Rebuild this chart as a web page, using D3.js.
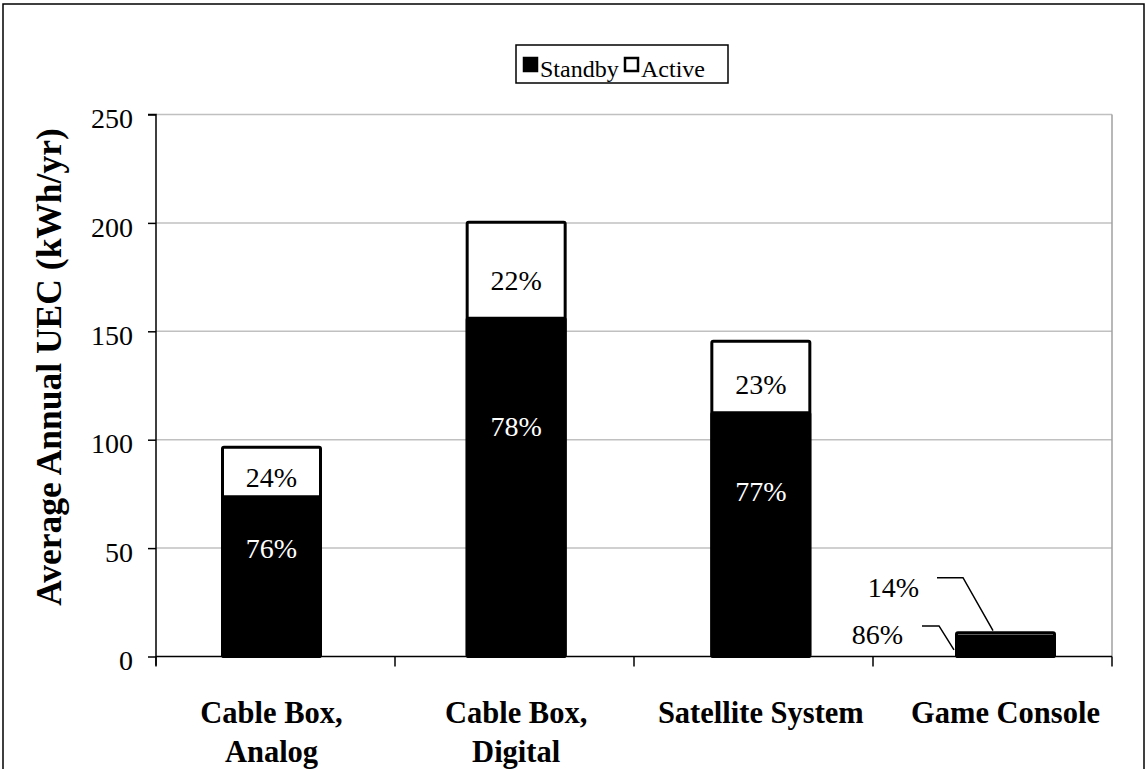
<!DOCTYPE html>
<html>
<head>
<meta charset="utf-8">
<script src="https://cdn.jsdelivr.net/npm/d3@7"></script>
<style>
html,body{margin:0;padding:0;background:#fff;}
svg{display:block;}
text{font-family:"Liberation Serif","Times New Roman",serif;}
</style>
</head>
<body>
<svg id="chart" width="1147" height="769"></svg>
<script>
const categories = ["Cable Box, Analog", "Cable Box, Digital", "Satellite System", "Game Console"];
const categoryLines = [["Cable Box,", "Analog"], ["Cable Box,", "Digital"], ["Satellite System"], ["Game Console"]];
const standby = [73.7, 156.0, 112.4, 9.5];
const active = [22.8, 44.3, 33.0, 1.5];
const standbyPct = ["76%", "78%", "77%", "86%"];
const activePct = ["24%", "22%", "23%", "14%"];
const yTicks = [0, 50, 100, 150, 200, 250];
const seriesNames = ["Standby", "Active"];

const svg = d3.select("#chart");

// outer border
svg.append("rect").attr("x", 3).attr("y", 4).attr("width", 1141).attr("height", 800)
  .attr("fill", "#fff").attr("stroke", "#000").attr("stroke-width", 1.5);

const plot = {left: 156, right: 1112, top: 114.5, bottom: 656.5};
const y = d3.scaleLinear().domain([0, 250]).range([plot.bottom, plot.top]);
const xBand = d3.scaleBand().domain(categories).range([plot.left, plot.right]);
const xBar = d3.scalePoint().domain(categories).range([271.5, 1005.5]);
const barW = 98;

// gridlines
svg.append("g").selectAll("line").data(yTicks.filter(d => d > 0)).join("line")
  .attr("x1", plot.left).attr("x2", plot.right)
  .attr("y1", d => y(d)).attr("y2", d => y(d))
  .attr("stroke", "#c0c0c0").attr("stroke-width", 1.5);
// right border of plot
svg.append("line").attr("x1", plot.right).attr("x2", plot.right)
  .attr("y1", plot.top).attr("y2", plot.bottom)
  .attr("stroke", "#a0a0a0").attr("stroke-width", 1.5);

// y axis
const yAxis = d3.axisLeft(y).tickValues(yTicks).tickSize(8).tickPadding(15).tickFormat(d3.format("d"));
const gy = svg.append("g").attr("transform", `translate(${plot.left},0)`).call(yAxis);
gy.select(".domain").attr("stroke", "#000").attr("stroke-width", 1.5).attr("d", `M-8,${plot.top}H0V${plot.bottom + 9}`);
gy.selectAll(".tick line").attr("stroke", "#000").attr("stroke-width", 1.5);
gy.selectAll(".tick text").attr("font-size", 28).attr("fill", "#000")
  .attr("font-family", '"Liberation Serif","Times New Roman",serif')
  .attr("dy", "0.47em");

// x axis line and ticks
svg.append("line").attr("x1", plot.left).attr("x2", plot.right)
  .attr("y1", plot.bottom).attr("y2", plot.bottom)
  .attr("stroke", "#000").attr("stroke-width", 1.5);
const xTickPos = categories.map(c => xBand(c)).concat([plot.right]);
svg.append("g").selectAll("line").data(xTickPos).join("line")
  .attr("x1", d => d).attr("x2", d => d)
  .attr("y1", plot.bottom).attr("y2", plot.bottom + 10)
  .attr("stroke", "#000").attr("stroke-width", 1.5);

// x labels
const xl = svg.append("g").selectAll("text").data(categories).join("text")
  .attr("x", d => xBar(d)).attr("y", 723)
  .attr("text-anchor", "middle").attr("font-size", 30.5).attr("font-weight", "bold");
xl.each(function(d, i) {
  const t = d3.select(this);
  categoryLines[i].forEach((ln, j) => {
    t.append("tspan").attr("x", xBar(d)).attr("dy", j === 0 ? 0 : 38.5).text(ln);
  });
});

// y title
svg.append("text").attr("transform", `translate(61,367) rotate(-90)`)
  .attr("text-anchor", "middle").attr("font-size", 35.5).attr("font-weight", "bold")
  .text("Average Annual UEC (kWh/yr)");

// bars
const defs = svg.append("defs");
const bars = svg.append("g");
categories.forEach((c, i) => {
  const cx = xBar(c);
  const total = standby[i] + active[i];
  const yTop = y(total), yMid = y(standby[i]), yBot = y(0);
  bars.append("rect").attr("x", cx - barW / 2).attr("y", yTop).attr("width", barW).attr("height", yBot - yTop)
    .attr("fill", "#fff").attr("stroke", "#000").attr("stroke-width", 3).attr("rx", 1.5);
  if (i < 3) {
    const cid = "clip" + i;
    defs.append("clipPath").attr("id", cid).append("rect")
      .attr("x", cx - barW / 2).attr("y", yTop).attr("width", barW).attr("height", Math.max(0, yMid - yTop - 8));
    bars.append("text").attr("x", cx).attr("y", yTop + 0.6 * (yMid - yTop))
      .attr("dy", "0.35em").attr("text-anchor", "middle").attr("font-size", 28).attr("fill", "#000")
      .attr("clip-path", `url(#${cid})`).text(activePct[i]);
  }
  bars.append("rect").attr("x", cx - barW / 2).attr("y", yMid).attr("width", barW).attr("height", yBot - yMid)
    .attr("fill", "#000").attr("stroke", "#000").attr("stroke-width", 3).attr("rx", 1.5);
  if (i < 3) {
    bars.append("text").attr("x", cx).attr("y", yMid + 0.32 * (yBot - yMid))
      .attr("dy", "0.35em").attr("text-anchor", "middle").attr("font-size", 28).attr("fill", "#fff")
      .text(standbyPct[i]);
  }
});

// game console leader labels
(function() {
  const i = 3, c = categories[i], cx = xBar(c);
  const yTop = y(standby[i] + active[i]), yMid = y(standby[i]);
  const g = svg.append("g").attr("fill", "none").attr("stroke", "#000").attr("stroke-width", 1.5);
  g.append("polyline").attr("points", [[cx - 68.5, yTop - 55], [cx - 42.5, yTop - 55], [cx - 12.5, yTop - 2]].map(p => p.join(",")).join(" "));
  g.append("polyline").attr("points", [[cx - 83.5, yMid - 10], [cx - 66.5, yMid - 10], [cx - 51.5, yMid + 14]].map(p => p.join(",")).join(" "));
  svg.append("text").attr("x", cx - 86.5).attr("y", yTop - 36).attr("text-anchor", "end").attr("font-size", 28).text(activePct[i]);
  svg.append("text").attr("x", cx - 102.5).attr("y", yMid + 8).attr("text-anchor", "end").attr("font-size", 28).text(standbyPct[i]);
})();

// legend
const lg = svg.append("g").attr("transform", "translate(516,45)");
lg.append("rect").attr("x", 0).attr("y", 0).attr("width", 212).attr("height", 38)
  .attr("fill", "#fff").attr("stroke", "#000").attr("stroke-width", 1.5);
const legendX = [7, 108];
seriesNames.forEach((s, i) => {
  lg.append("rect").attr("x", legendX[i] + 1).attr("y", 13).attr("width", 13).attr("height", 13)
    .attr("fill", i === 0 ? "#000" : "#fff").attr("stroke", "#000").attr("stroke-width", 2.5);
  lg.append("text").attr("x", legendX[i] + 17).attr("y", 32).attr("font-size", 24).text(s);
});
</script>
</body>
</html>
